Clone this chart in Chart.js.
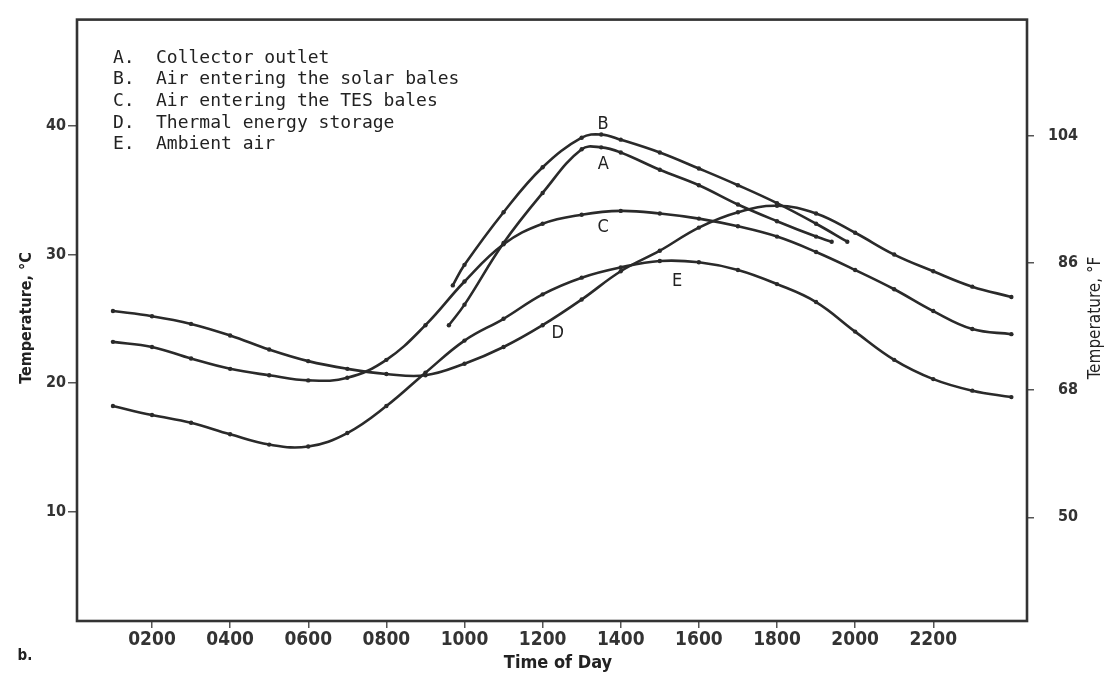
<!DOCTYPE html>
<html>
<head>
<meta charset="utf-8">
<title>Temperature vs time of day</title>
<script src="https://cdn.jsdelivr.net/npm/chart.js@4.4.1/dist/chart.umd.min.js"></script>
<style>
  html, body { margin: 0; padding: 0; background: #fff; }
  canvas { display: block; }
</style>
</head>
<body>
<canvas id="chart" width="1114" height="689"></canvas>
<script>
// hours of the day (1 = 0100)
const hours = [1, 2, 3, 4, 5, 6, 7, 8, 9, 10, 11, 12, 13, 14, 15, 16, 17, 18, 19, 20, 21, 22, 23, 24];
const solarHoursA = [9.6, 10, 11, 12, 13, 13.5, 14, 15, 16, 17, 18, 19, 19.4];
const solarHoursB = [9.7, 10, 11, 12, 13, 13.5, 14, 15, 16, 17, 18, 19, 19.8];

// temperatures, deg C
const collectorOutlet = [24.5, 26.1, 30.9, 34.8, 38.2, 38.35, 37.95, 36.6, 35.4, 33.9, 32.6, 31.4, 31.0];
const solarBalesAir = [27.6, 29.2, 33.3, 36.8, 39.1, 39.35, 38.95, 37.95, 36.7, 35.4, 34.0, 32.4, 31.0];
const tesBalesAir = [23.2, 22.8, 21.9, 21.1, 20.6, 20.2, 20.4, 21.8, 24.5, 27.9, 30.8, 32.4, 33.1, 33.4, 33.2, 32.8, 32.2, 31.4, 30.2, 28.8, 27.3, 25.6, 24.2, 23.8];
const storageTemp = [25.6, 25.2, 24.6, 23.7, 22.6, 21.7, 21.1, 20.7, 20.6, 21.5, 22.8, 24.5, 26.5, 28.7, 30.3, 32.1, 33.3, 33.8, 33.2, 31.7, 30.0, 28.7, 27.5, 26.7];
const ambientAir = [18.2, 17.5, 16.9, 16.0, 15.2, 15.05, 16.1, 18.2, 20.8, 23.3, 25.0, 26.9, 28.2, 29.0, 29.5, 29.4, 28.8, 27.7, 26.3, 24.0, 21.8, 20.3, 19.4, 18.9];

const seriesLetters = ['A', 'B', 'C', 'D', 'E'];
const seriesNames = ['Collector outlet', 'Air entering the solar bales', 'Air entering the TES bales', 'Thermal energy storage', 'Ambient air'];

// tick labels
const timeTicks = [2, 4, 6, 8, 10, 12, 14, 16, 18, 20, 22];
const celsiusTicks = [10, 20, 30, 40];
const fahrenheitTicks = [50, 68, 86, 104];

const ink = '#2a2a2a';
const toPoints = (xs, ys) => xs.map((h, i) => ({ x: h, y: ys[i] }));

// where the letters sit next to the curves (hour, deg C)
const curveTags = [
  { text: 'A', x: 13.55, y: 37.0 },
  { text: 'B', x: 13.55, y: 40.15 },
  { text: 'C', x: 13.55, y: 32.15 },
  { text: 'D', x: 12.39, y: 23.85 },
  { text: 'E', x: 15.44, y: 27.9 }
];

const series = [
  [solarHoursA, collectorOutlet],
  [solarHoursB, solarBalesAir],
  [hours, tesBalesAir],
  [hours, storageTemp],
  [hours, ambientAir]
];

const datasets = series.map((s, i) => ({
  label: seriesNames[i],
  letter: seriesLetters[i],
  data: toPoints(s[0], s[1]),
  borderColor: ink,
  borderWidth: 2.6,
  tension: 0.4,
  pointRadius: 2.2,
  pointBackgroundColor: ink,
  pointBorderWidth: 0,
  yAxisID: 'y'
}));

const narrow = '"DejaVu Sans Condensed", "DejaVu Sans", sans-serif';

const paperText = {
  id: 'paperText',
  afterDraw(chart) {
    const { ctx, chartArea: a, scales } = chart;
    ctx.save();
    ctx.strokeStyle = '#333';
    ctx.lineWidth = 2.6;
    ctx.strokeRect(a.left, a.top, a.right - a.left, a.bottom - a.top);

    ctx.fillStyle = '#222';
    ctx.textBaseline = 'middle';
    ctx.font = '18px "DejaVu Sans Mono", "Liberation Mono", monospace';
    chart.data.datasets.forEach((ds, i) => {
      const yy = 58 + i * 21.7;
      ctx.textAlign = 'left';
      ctx.fillText(ds.letter + '.', 113, yy);
      ctx.fillText(ds.label, 156, yy);
    });

    ctx.font = '18px "Liberation Sans Narrow", ' + narrow;
    ctx.textAlign = 'center';
    curveTags.forEach(t => {
      ctx.fillText(t.text, scales.x.getPixelForValue(t.x), scales.y.getPixelForValue(t.y));
    });

    ctx.font = 'bold 18px ' + narrow;
    ctx.fillText('Time of Day', 558, 663);
    ctx.font = 'bold 15px ' + narrow;
    ctx.fillText('b.', 25, 656);

    ctx.save();
    ctx.translate(27, 318);
    ctx.rotate(-Math.PI / 2);
    ctx.font = 'bold 16px ' + narrow;
    ctx.fillText('Temperature, \u00B0C', 0, 0);
    ctx.restore();

    ctx.save();
    ctx.translate(1096, 318);
    ctx.rotate(-Math.PI / 2);
    ctx.font = '17px ' + narrow;
    ctx.fillText('Temperature, \u00B0F', 0, 0);
    ctx.restore();

    ctx.restore();
  }
};

const tickFont = { family: narrow, size: 16, weight: 'bold' };

new Chart(document.getElementById('chart'), {
  type: 'line',
  data: { datasets: datasets },
  options: {
    responsive: false,
    animation: false,
    events: [],
    layout: { padding: { top: 12, left: 0, right: 36, bottom: 0 } },
    plugins: {
      legend: { display: false },
      title: { display: false },
      tooltip: { enabled: false }
    },
    scales: {
      x: {
        type: 'linear',
        min: 0.08,
        max: 24.4,
        afterBuildTicks: s => { s.ticks = timeTicks.map(v => ({ value: v })); },
        afterFit: s => { s.height = 68; },
        ticks: {
          autoSkip: false,
          maxRotation: 0,
          padding: 1,
          color: '#333',
          font: { family: '"Liberation Sans Narrow", ' + narrow, size: 19, weight: 'bold' },
          callback: v => String(v * 100).padStart(4, '0')
        },
        grid: { drawOnChartArea: false, tickLength: 7, color: '#555', lineWidth: 1.5 },
        border: { display: false }
      },
      y: {
        position: 'left',
        min: 1.46,
        max: 48.3,
        afterBuildTicks: s => { s.ticks = celsiusTicks.map(v => ({ value: v })); },
        afterFit: s => { s.width = 77; },
        ticks: { padding: 2, color: '#333', font: tickFont },
        grid: { drawOnChartArea: false, tickLength: 9, color: '#555', lineWidth: 1.5 },
        border: { display: false }
      },
      y2: {
        position: 'right',
        min: 35.31,
        max: 120.5,
        afterBuildTicks: s => { s.ticks = fahrenheitTicks.map(v => ({ value: v })); },
        afterFit: s => { s.width = 51; },
        ticks: { padding: 10, crossAlign: 'far', color: '#333', font: tickFont },
        grid: { drawOnChartArea: false, tickLength: 7, color: '#555', lineWidth: 1.5 },
        border: { display: false }
      }
    }
  },
  plugins: [paperText]
});
</script>
</body>
</html>
